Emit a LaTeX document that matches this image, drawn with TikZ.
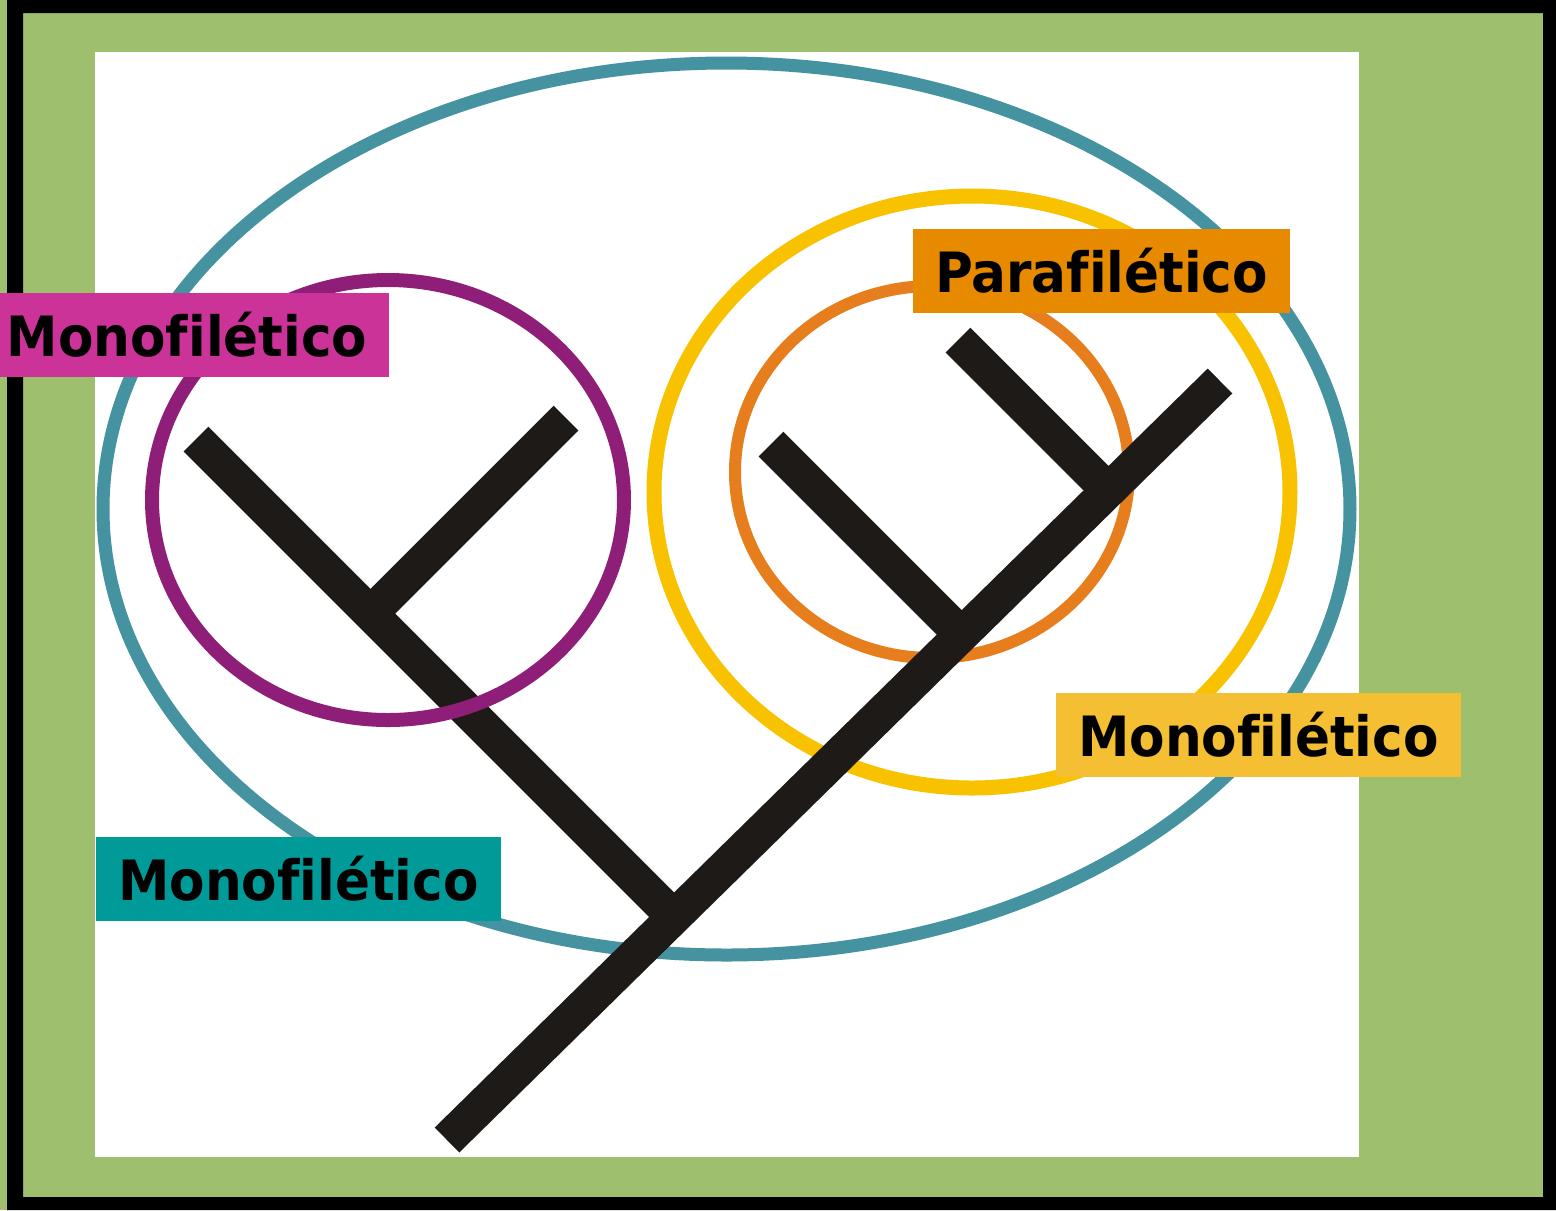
\documentclass[tikz,border=0pt]{standalone}
\usepackage{fontspec}
\usepackage{xcolor}
\usepackage{tikz}
\usetikzlibrary{positioning}
\newfontfamily\taglabelfont{DejaVu Sans}[Ligatures=NoCommon,FakeStretch=0.93]
\definecolor{framegreen}{HTML}{9DBF6E}
\definecolor{branchblack}{HTML}{1E1A18}
\definecolor{allclade}{HTML}{4593A0}
\definecolor{leftclade}{HTML}{8E1E78}
\definecolor{rightclade}{HTML}{F8C200}
\definecolor{paraclade}{HTML}{E67E1E}
\definecolor{magentafill}{HTML}{CB3398}
\definecolor{orangefill}{HTML}{E88A00}
\definecolor{yellowfill}{HTML}{F5BF33}
\definecolor{tealfill}{HTML}{009A98}
\tikzset{
  branch/.style={line width=3.5mm, line cap=butt, draw=branchblack},
  ring/.style={line width=1.3mm},
  tag/.style={
    font=\taglabelfont\bfseries\fontsize{15.8}{18}\selectfont,
    text=black,
    inner xsep=2.2mm,
    inner ysep=0pt,
    minimum height=8.4mm
  }
}

\begin{document}
\begin{tikzpicture}[x=0.1mm,y=-0.1mm]
\useasboundingbox (0,0) rectangle (1556,1210);
\clip (0,0) rectangle (1556,1210);

% page frame
\fill[framegreen] (0,0) rectangle (1556,1210);
\fill[black, even odd rule] (7,0) rectangle (1556,1210) (23,13) rectangle (1543,1197);
\fill[white] (95,52) rectangle (1359,1157);

% clade outlines under the tree
\draw[ring, allclade] (726.5,509) ellipse [x radius=623.5, y radius=446];
\draw[ring, line width=1.5mm, rightclade] (972,492) ellipse [x radius=318, y radius=296];
\draw[ring, line width=1.2mm, paraclade] (932,472) ellipse [x radius=197, y radius=186];

% tree
\coordinate (root) at (447,1140);
\coordinate (tipE) at (1220,381);
\coordinate (nodeL) at (674,917);
\coordinate (tipA) at (196,439);
\coordinate (nodeA) at (370.5,613.5);
\coordinate (tipB) at (566,418);
\coordinate (nodeC) at (961.7,634.7);
\coordinate (tipC) at (771,444);
\coordinate (nodeD) at (1108.5,490.5);
\coordinate (tipD) at (958,340);

\draw[branch] (root) -- (tipE);
\draw[branch] (nodeL) -- (tipA);
\draw[branch] (nodeA) -- (tipB);
\draw[branch] (nodeC) -- (tipC);
\draw[branch] (nodeD) -- (tipD);

\draw[ring, line width=1.4mm, leftclade] (388,500) ellipse [x radius=236, y radius=220];

% labels
\node[tag, fill=magentafill, anchor=east] (monoA) at (390,335) {Monofilético};
\node[tag, fill=orangefill] (para) at (1101.5,271) {Parafilético};
\node[tag, fill=yellowfill] (monoB) at (1258.5,735) {Monofilético};
\node[tag, fill=tealfill] (monoAll) at (298.5,878.5) {Monofilético};
\end{tikzpicture}
\end{document}
